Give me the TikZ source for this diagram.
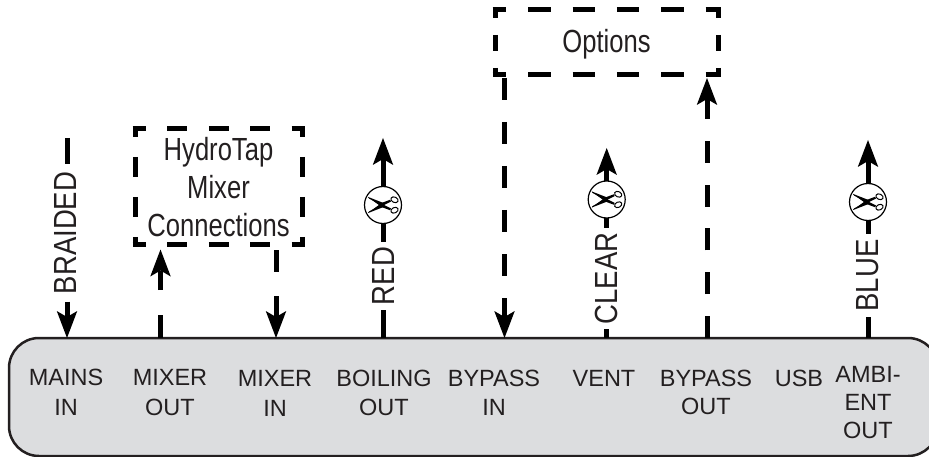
\documentclass[tikz,border=0pt]{standalone}
\usepackage{fontspec}
\setmainfont{Liberation Sans}
\newfontfamily\boxfont[FakeStretch=.8]{Liberation Sans}
\newfontfamily\wirefont[FakeStretch=.86]{Liberation Sans}
\usetikzlibrary{arrows.meta}
\definecolor{ink}{HTML}{231F20}
\definecolor{panelfill}{HTML}{DCDDDF}
\tikzset{
  wire/.style={line width=5pt,draw=black},
  tipped/.style={-{Stealth[length=27pt,width=20.5pt,inset=6pt,line width=0pt]}},
  panel/.style={draw=ink,line width=2.5pt,fill=panelfill,rounded corners=30pt,minimum width=929pt,minimum height=118pt,inner sep=0pt,outer sep=0pt},
  portlabel/.style={text=ink,font=\fontsize{23.5}{29.5}\selectfont,align=center,inner sep=0pt},
  wirelabel/.style={text=ink,font=\wirefont\fontsize{32}{32}\selectfont,rotate=90,inner ysep=0pt,inner xsep=5pt,outer sep=0pt,anchor=center},
  cut/.style={circle,draw=black,line width=1.2pt,fill=white,minimum size=37pt,inner sep=0pt,outer sep=0pt},
  boxtext/.style={text=ink,font=\boxfont\fontsize{32}{38}\selectfont,align=center,inner sep=0pt,outer sep=0pt},
  dashh/.style={line width=5pt,draw=black},
  scis/.pic={
    \fill[black] (-14.8,-8) -- (-14,-6.6) -- (1,0) -- (8,3.4) -- (7,5.2) -- (-1.5,2) -- cycle;
    \fill[black] (-14.8,8) -- (-14,6.6) -- (1,0) -- (8,-3.4) -- (7,-5.2) -- (-1.5,-2) -- cycle;
    \fill[black] (-14.8,-8) -- (0,-2.2) -- (1.5,0) -- (0,2.2) -- (-14.8,8) -- (-14,6.6) -- (-3,0) -- (-14,-6.6) -- cycle;
    \draw[black,line width=1pt,fill=white,rotate=-25] (8.2,-9.6) ellipse (3.8pt and 2.7pt);
    \draw[black,line width=1pt,fill=white,rotate=25] (8.2,9.6) ellipse (3.8pt and 2.7pt);
  }
}
\begin{document}
\begin{tikzpicture}[x=1pt,y=-1pt]
\clip (0,0) rectangle (929,457);
% panel
\node[panel] (panelbox) at (473.5,397) {};
% ports
\coordinate (pA) at (67,338);
\coordinate (pB) at (160.5,338);
\coordinate (pC) at (276,338);
\coordinate (pD) at (383,338);
\coordinate (pE) at (504.5,338);
\coordinate (pF) at (606.7,338);
\coordinate (pG) at (707,338);
\coordinate (pH) at (868,338);
\coordinate (tA) at (67,138);
\coordinate (tD) at (383,138);
\coordinate (tF) at (606.7,148);
\coordinate (tH) at (868,140);
% port labels
\node[portlabel,anchor=base] (mainsin) at (66,385) {MAINS};
\node[portlabel,anchor=base] (mainsinb) at (66,415) {IN};
\node[portlabel,anchor=base] (mixerout) at (170,385) {MIXER};
\node[portlabel,anchor=base] (mixeroutb) at (170,415) {OUT};
\node[portlabel,anchor=base] (mixerin) at (275,386) {MIXER};
\node[portlabel,anchor=base] (mixerinb) at (275,416) {IN};
\node[portlabel,anchor=base] (boilingout) at (384,386) {BOILING};
\node[portlabel,anchor=base] (boilingoutb) at (384,415) {OUT};
\node[portlabel,anchor=base] (bypassin) at (494,386) {BYPASS};
\node[portlabel,anchor=base] (bypassinb) at (494,415) {IN};
\node[portlabel,anchor=base] (vent) at (604,386) {VENT};
\node[portlabel,anchor=base] (bypassout) at (706,386) {BYPASS};
\node[portlabel,anchor=base] (bypassoutb) at (706,414) {OUT};
\node[portlabel,anchor=base] (usb) at (799,386) {USB};
\node[portlabel,anchor=base] (ambi) at (868,382) {AMBI-};
\node[portlabel,anchor=base] (ambib) at (868,410) {ENT};
\node[portlabel,anchor=base] (ambic) at (868,438) {OUT};
% dashed boxes
\node[boxtext,minimum width=167pt,minimum height=116pt] (hydro) at (218.5,187) {HydroTap\\Mixer\\Connections};
\node[boxtext,minimum width=223pt,minimum height=65pt] (options) at (606.5,42.5) {\raisebox{-10.5pt}[0pt][0pt]{Options}};
\foreach \bx/\on/\off/\ph in {hydro/20/21.4/6.5,options/22.3/22/8.5}{
  \draw[dashh,dash pattern=on \on pt off \off pt,dash phase=\ph pt,shorten <=-2.5pt,shorten >=-2.5pt] (\bx.north west) -- (\bx.north east);
  \draw[dashh,dash pattern=on \on pt off \off pt,dash phase=\ph pt,shorten <=-2.5pt,shorten >=-2.5pt] (\bx.south west) -- (\bx.south east);
}
\foreach \s in {west,east}{
  \draw[dashh,dash pattern=on 20pt off 20pt,dash phase=12pt] (hydro.north \s) -- (hydro.south \s);
  \draw[dashh,dash pattern=on 16pt off 17pt,dash phase=8pt] (options.north \s) -- (options.south \s);
}
% wire labels and cut marks
\node[wirelabel,inner xsep=7.5pt] (braided) at (65,233) {BRAIDED};
\node[wirelabel] (red) at (383,276) {RED};
\node[wirelabel] (clear) at (606.7,278.5) {CLEAR};
\node[wirelabel,inner xsep=6pt] (blue) at (868,275.5) {BLUE};
\node[cut] (cutD) at (383,205) {};
\node[cut] (cutF) at (606.7,199.5) {};
\node[cut] (cutH) at (868,202) {};
% solid connectors
\draw[wire] (tA) -- (tA |- braided.east);
\draw[wire,tipped] (tA |- braided.west) -- (pA);
\draw[wire] (pD) -- (red);
\draw[wire] (red) -- (cutD);
\draw[wire,tipped] (cutD) -- (tD);
\draw[wire] (pF) -- (clear);
\draw[wire] (clear) -- (cutF);
\draw[wire,tipped] (cutF) -- (tF);
\draw[wire] (pH) -- (blue);
\draw[wire] (blue) -- (cutH);
\draw[wire,tipped] (cutH) -- (tH);
% dashed connectors
\draw[wire,tipped,dash pattern=on 23pt off 25pt,shorten >=4.5pt] (pB) -- (pB |- hydro.south);
\draw[wire,tipped,dash pattern=on 22pt off 24pt,dash phase=41pt] (pC |- hydro.south) -- (pC);
\draw[wire,tipped,dash pattern=on 22pt off 22pt,dash phase=41pt] (pE |- options.south) -- (pE);
\draw[wire,tipped,dash pattern=on 22pt off 21.8pt,shorten >=3pt] (pG) -- (pG |- options.south);
% scissors
\pic at (cutD) {scis};
\pic at (cutF) {scis};
\pic at (cutH) {scis};
\end{tikzpicture}
\end{document}
